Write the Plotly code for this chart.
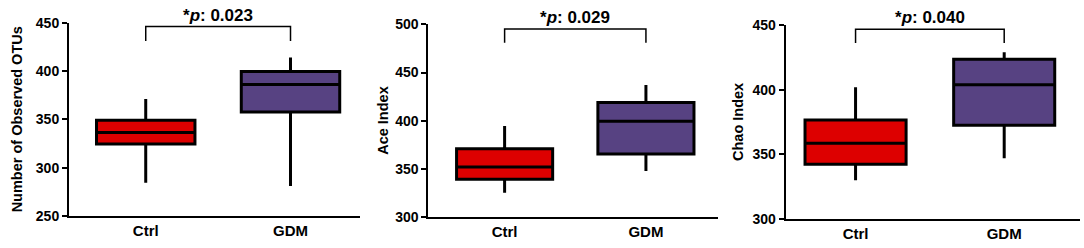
import plotly.graph_objects as go

# ---- data ----
groups = ["Ctrl", "GDM"]
panel_titles = ["Number of Observed OTUs", "Ace Index", "Chao Index"]
p_labels = ["0.023", "0.029", "0.040"]

# [lower whisker, Q1, median, Q3, upper whisker]
otus_ctrl = [284.5, 324.5, 336.5, 349, 371]
otus_gdm = [281, 357.5, 386, 399.5, 414]
ace_ctrl = [325.5, 339.5, 352, 371, 394.5]
ace_gdm = [348, 365.5, 399.5, 419, 437]
chao_ctrl = [330, 342.3, 358.5, 376.5, 401.8]
chao_gdm = [347, 372.4, 403.8, 423.5, 429]

# bracket [foot, top]
brackets = [[431, 446], [481, 495], [436, 446.7]]

y_ranges = [[250, 450], [300, 500], [300, 450]]
y_ticks = [[250, 300, 350, 400, 450], [300, 350, 400, 450, 500], [300, 350, 400, 450]]

panel_stats = [(otus_ctrl, otus_gdm), (ace_ctrl, ace_gdm), (chao_ctrl, chao_gdm)]

# ---- layout geometry (page pixels) ----
W, H = 1084, 248

def fx(p):
    return p / W

def fy(p):
    return (H - p) / H

x_dom = [[fx(69), fx(360)], [fx(428.3), fx(718)], [fx(785.7), fx(1080)]]
y_dom = [[fy(216), fy(22.7)], [fy(217.3), fy(24.3)], [fy(219), fy(25)]]
x_rng = [[-0.53, 1.48], [-0.54, 1.51], [-0.47, 1.51]]
title_x = [17, 383, 738]

colors = ["#DD0000", "#574282"]
FONT = "Liberation Sans, Arial, sans-serif"

fig = go.Figure()
annotations = []
for i in range(3):
    xa = "x" if i == 0 else f"x{i+1}"
    ya = "y" if i == 0 else f"y{i+1}"
    for j, stats in enumerate(panel_stats[i]):
        lo, q1, med, q3, hi = stats
        fig.add_trace(go.Box(
            x=[j], lowerfence=[lo], q1=[q1], median=[med], q3=[q3], upperfence=[hi],
            width=0.68, fillcolor=colors[j], line=dict(color="black", width=3),
            whiskerwidth=0, boxpoints=False, showlegend=False, hoverinfo="skip",
            xaxis=xa, yaxis=ya,
        ))
    foot, top = brackets[i]
    fig.add_trace(go.Scatter(
        x=[0, 0, 1, 1], y=[foot, top, top, foot], mode="lines",
        line=dict(color="black", width=1.5), showlegend=False, hoverinfo="skip",
        xaxis=xa, yaxis=ya, cliponaxis=False,
    ))
    annotations.append(dict(
        x=0.5, y=top, xref=xa, yref=ya, yanchor="bottom", yshift=0, showarrow=False,
        text=f"<b>*<i>p</i>: {p_labels[i]}</b>", font=dict(family=FONT, size=17, color="black"),
    ))
    annotations.append(dict(
        x=fx(title_x[i]), y=(y_dom[i][0] + y_dom[i][1]) / 2, xref="paper", yref="paper",
        textangle=-90, showarrow=False, xanchor="center", yanchor="middle",
        text=f"<b>{panel_titles[i]}</b>", font=dict(family=FONT, size=14.5, color="black"),
    ))
    key = "" if i == 0 else str(i + 1)
    fig.update_layout(**{
        f"xaxis{key}": dict(
            domain=x_dom[i], range=x_rng[i], anchor=ya, automargin=False,
            tickvals=[0, 1], ticktext=[f"<b>{g}</b>" for g in groups],
            showline=True, linecolor="black", linewidth=2, ticks="", showgrid=False,
            zeroline=False, tickfont=dict(family=FONT, size=15, color="black"), fixedrange=True,
        ),
        f"yaxis{key}": dict(
            domain=y_dom[i], range=y_ranges[i], anchor=xa, automargin=False,
            tickvals=y_ticks[i], ticktext=[f"<b>{t}</b>" for t in y_ticks[i]],
            showline=True, linecolor="black", linewidth=2, ticks="outside", ticklen=5,
            tickwidth=2, tickcolor="black", showgrid=False, zeroline=False,
            tickfont=dict(family=FONT, size=14, color="black"), fixedrange=True,
        ),
    })

fig.update_layout(
    width=W, height=H, margin=dict(l=0, r=0, t=0, b=0, autoexpand=False),
    paper_bgcolor="white", plot_bgcolor="white",
    annotations=annotations, showlegend=False,
)
fig.write_html(
    "out.html",
    config={"displayModeBar": False, "staticPlot": True},
    post_script="document.body.style.margin='0px';document.body.style.overflow='hidden';",
)
